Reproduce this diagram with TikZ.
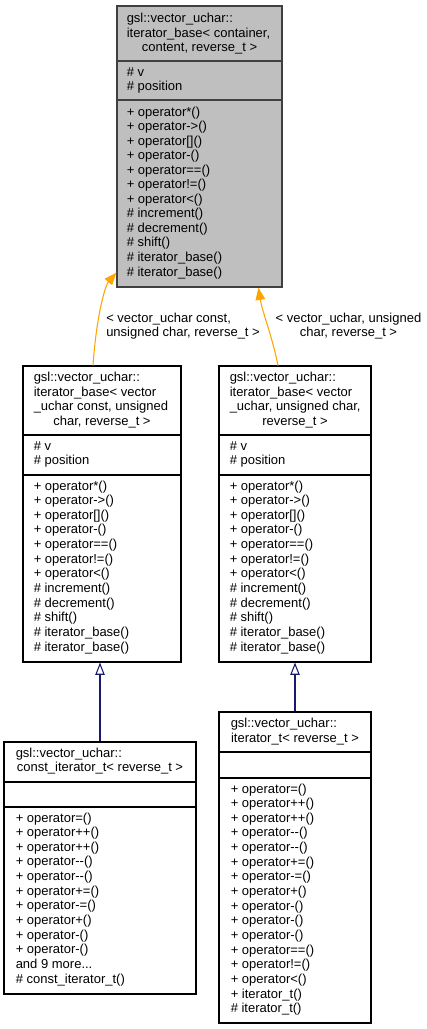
\documentclass[tikz,border=0pt]{standalone}
\usepackage{fontspec}
\setmainfont{Liberation Sans}
\usetikzlibrary{arrows.meta,fit}
\definecolor{gvorange}{HTML}{FFA500}
\definecolor{gvblue}{HTML}{191970}
\definecolor{gvgrey}{HTML}{BFBFBF}
\definecolor{gvborder}{HTML}{404040}
\tikzset{
  box/.style={draw=black, fill=white, line width=0.8pt, inner sep=0pt},
  basebox/.style={draw=gvborder, fill=gvgrey, line width=1pt, inner sep=0pt},
  row/.style={anchor=base west, inner sep=0pt},
  mid/.style={anchor=base, inner sep=0pt},
  tmpl/.style={draw=gvorange, line width=0.8pt, -{Triangle[length=9.2pt,width=7.2pt]}},
  inherit/.style={draw=gvblue, line width=0.8pt, -{Triangle[open,length=9.2pt,width=7pt]}},
}
\begin{document}
\begin{tikzpicture}[x=0.75pt, y=-0.75pt, font=\fontsize{9.75}{11.7}\selectfont]
  \useasboundingbox (0,0) rectangle (427,1029);

  % iterator_base< container, content, reverse_t >
  \node[basebox, fit={(117,6) (282,287)}] (base) {};
  \draw[basebox, fill=none] (117,61) -- (282,61);
  \draw[basebox, fill=none] (117,100) -- (282,100);
  \node[row] (base-h1) at (126.5,22.5) {gsl::vector\_uchar::};
  \node[row] (base-h2) at (126.5,37) {iterator\_base< container,};
  \node[mid] (base-h3) at (199.5,51.5) {content, reverse\_t >};
  \node[row] (base-a1) at (126.5,76) {\# v};
  \node[row] (base-a2) at (126.5,90.6) {\# position};
  \foreach \t [count=\i from 0] in {+ operator*(), + operator->(), + operator[](), + operator-(),
      + operator==(), + operator!=(), + operator<(), \# increment(), \# decrement(), \# shift(),
      \# iterator\_base(), \# iterator\_base()}
    \node[row] (base-op\i) at (126.5,116+14.55*\i) {\t};

  % iterator_base< vector_uchar const, unsigned char, reverse_t >
  \node[box, fit={(23,366) (181,662)}] (cbase) {};
  \draw[box] (23,435) -- (181,435);
  \draw[box] (23,475) -- (181,475);
  \node[row] (cbase-h1) at (33.5,381.5) {gsl::vector\_uchar::};
  \node[row] (cbase-h2) at (33.5,396) {iterator\_base< vector};
  \node[row] (cbase-h3) at (33.5,410.5) {\_uchar const, unsigned};
  \node[mid] (cbase-h4) at (102,425) {char, reverse\_t >};
  \node[row] (cbase-a1) at (33.5,450) {\# v};
  \node[row] (cbase-a2) at (33.5,464.6) {\# position};
  \foreach \t [count=\i from 0] in {+ operator*(), + operator->(), + operator[](), + operator-(),
      + operator==(), + operator!=(), + operator<(), \# increment(), \# decrement(), \# shift(),
      \# iterator\_base(), \# iterator\_base()}
    \node[row] (cbase-op\i) at (33.5,490+14.65*\i) {\t};

  % iterator_base< vector_uchar, unsigned char, reverse_t >
  \node[box, fit={(219,366) (371,662)}] (ibase) {};
  \draw[box] (219,435) -- (371,435);
  \draw[box] (219,475) -- (371,475);
  \node[row] (ibase-h1) at (229.5,381.5) {gsl::vector\_uchar::};
  \node[row] (ibase-h2) at (229.5,396) {iterator\_base< vector};
  \node[row] (ibase-h3) at (229.5,410.5) {\_uchar, unsigned char,};
  \node[mid] (ibase-h4) at (295,425) {reverse\_t >};
  \node[row] (ibase-a1) at (229.5,450) {\# v};
  \node[row] (ibase-a2) at (229.5,464.6) {\# position};
  \foreach \t [count=\i from 0] in {+ operator*(), + operator->(), + operator[](), + operator-(),
      + operator==(), + operator!=(), + operator<(), \# increment(), \# decrement(), \# shift(),
      \# iterator\_base(), \# iterator\_base()}
    \node[row] (ibase-op\i) at (229.5,490+14.65*\i) {\t};

  % const_iterator_t< reverse_t >
  \node[box, fit={(4,742) (196,994)}] (citer) {};
  \draw[box] (4,782) -- (196,782);
  \draw[box] (4,807) -- (196,807);
  \node[row] (citer-h1) at (15.5,757) {gsl::vector\_uchar::};
  \node[mid] (citer-h2) at (100,771.5) {const\_iterator\_t< reverse\_t >};
  \foreach \t [count=\i from 0] in {+ operator=(), + operator++(), + operator++(), + operator-{}-(),
      + operator-{}-(), + operator+=(), + operator-=(), + operator+(), + operator-(), + operator-(),
      and 9 more.{}.{}., \# const\_iterator\_t()}
    \node[row] (citer-op\i) at (15.5,822+14.65*\i) {\t};

  % iterator_t< reverse_t >
  \node[box, fit={(219,712) (371,1023)}] (iter) {};
  \draw[box] (219,752) -- (371,752);
  \draw[box] (219,778) -- (371,778);
  \node[row] (iter-h1) at (230.5,727.5) {gsl::vector\_uchar::};
  \node[mid] (iter-h2) at (295,742) {iterator\_t< reverse\_t >};
  \foreach \t [count=\i from 0] in {+ operator=(), + operator++(), + operator++(), + operator-{}-(),
      + operator-{}-(), + operator+=(), + operator-=(), + operator+(), + operator-(), + operator-(),
      + operator-(), + operator==(), + operator!=(), + operator<(), + iterator\_t(), \# iterator\_t()}
    \node[row] (iter-op\i) at (230.5,793+14.65*\i) {\t};

  % template instances
  \draw[tmpl] ([xshift=-6.75pt]cbase.north) .. controls +(3,-45) and +(-12,14) .. ([yshift=11.25pt]base.south west);
  \draw[tmpl] ([xshift=-12.75pt]ibase.north) .. controls +(-6,-30) and +(4,25) .. ([xshift=44.2pt]base.south);
  \node[row] (lblc1) at (106,322.5) {< vector\_uchar const,};
  \node[row] (lblc2) at (106,336) {unsigned char, reverse\_t >};
  \node[mid] (lbli1) at (348.5,322.5) {< vector\_uchar, unsigned};
  \node[mid] (lbli2) at (348.5,336) {char, reverse\_t >};

  % inheritance
  \draw[inherit] (citer.north) -- (citer.north |- cbase.south);
  \draw[inherit] (iter.north) -- (ibase.south);
\end{tikzpicture}
\end{document}
